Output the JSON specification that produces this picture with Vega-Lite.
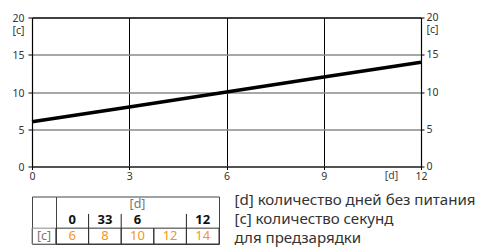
{
  "$schema": "https://vega.github.io/schema/vega-lite/v6.json",
  "padding": {"left": 11, "top": 12.5, "right": 0, "bottom": 0},
  "config": {
    "font": "Noto Sans",
    "view": {"stroke": null},
    "axis": {"labelFont": "Noto Sans", "labelFontSize": 10.5, "labelColor": "#333", "domainColor": "#000", "tickColor": "#000", "domainWidth": 1.2, "labelOverlap": false, "labelFlush": false}
  },
  "vconcat": [
    {
      "width": 389,
      "height": 149,
      "data": {"values": [{"d": 0, "c": 6}, {"d": 3, "c": 8}, {"d": 6, "c": 10}, {"d": 9, "c": 12}, {"d": 12, "c": 14}]},
      "layer": [
        {
          "mark": {"type": "line", "color": "#000", "strokeWidth": 3.5},
          "encoding": {
            "x": {"field": "d", "type": "quantitative", "scale": {"domain": [0, 12], "nice": false},
              "axis": {"values": [0, 3, 6, 9, 12], "title": "[d]", "titleX": 359, "titleY": 9, "titleBaseline": "middle", "titleAlign": "center", "titleFontWeight": "normal", "titleFontSize": 10.5, "titleFont": "Noto Sans", "titleColor": "#444", "grid": true, "gridColor": "#000", "gridWidth": 1, "tickSize": 3, "labelPadding": 2}},
            "y": {"field": "c", "type": "quantitative", "scale": {"domain": [0, 20], "nice": false},
              "axis": {"values": [0, 5, 10, 15, 20], "title": null, "grid": true,
                "gridColor": {"condition": {"test": "datum.value == 20", "value": "#000"}, "value": "#8a8a8a"},
                "gridWidth": 1.5, "tickSize": 4, "labelPadding": 4, "labelBaseline": "alphabetic", "labelOffset": 4, "labelLineHeight": 12,
                "labelExpr": "datum.value == 20 ? ['20', '[c]'] : datum.label"}}
          }
        },
        {
          "mark": {"type": "line", "opacity": 0},
          "encoding": {
            "x": {"field": "d", "type": "quantitative"},
            "y": {"field": "c", "type": "quantitative",
              "axis": {"orient": "right", "values": [0, 5, 10, 15, 20], "title": null, "grid": false, "tickSize": 3, "labelPadding": 2, "labelBaseline": "alphabetic", "labelOffset": 3, "labelLineHeight": 12,
                "labelExpr": "datum.value == 20 ? ['20', '[c]'] : datum.label"}}
          }
        }
      ],
      "resolve": {"axis": {"y": "independent"}}
    },
    {
      "spacing": 14,
      "hconcat": [
        {
          "spacing": 0,
          "bounds": "flush",
          "hconcat": [
            {
              "width": 24,
              "height": 47.5,
              "view": {"stroke": "#444", "strokeWidth": 1},
              "data": {"values": [{"row": "C", "label": "[c]"}]},
              "layer": [
                {
                  "mark": {"type": "rect", "fill": "transparent", "stroke": "#888", "strokeWidth": 1},
                  "encoding": {"y": {"field": "row", "type": "nominal", "scale": {"domain": ["A", "B", "C"], "paddingInner": 0, "paddingOuter": 0}, "axis": null}}
                },
                {
                  "mark": {"type": "text", "color": "#777", "fontSize": 12.5},
                  "encoding": {"y": {"field": "row", "type": "nominal", "axis": null}, "text": {"field": "label"}}
                }
              ]
            },
            {
              "width": 163,
              "height": 47.5,
              "view": {"stroke": "#444", "strokeWidth": 1},
              "layer": [
                {
                  "data": {"values": [{"row": "C", "col": 1}, {"row": "C", "col": 2}, {"row": "C", "col": 3}, {"row": "C", "col": 4}, {"row": "C", "col": 5}]},
                  "mark": {"type": "rect", "fill": "transparent", "stroke": "#333", "strokeWidth": 1},
                  "encoding": {
                    "x": {"field": "col", "type": "ordinal", "scale": {"domain": [1, 2, 3, 4, 5], "paddingInner": 0, "paddingOuter": 0}, "axis": null},
                    "y": {"field": "row", "type": "nominal", "scale": {"domain": ["A", "B", "C"], "paddingInner": 0, "paddingOuter": 0}, "axis": null}
                  }
                },
                {
                  "data": {"values": [{"row": "B", "col": 2}, {"row": "B", "col": 3}, {"row": "B", "col": 5}]},
                  "mark": {"type": "rule", "color": "#222", "strokeWidth": 1},
                  "encoding": {
                    "x": {"field": "col", "type": "ordinal", "bandPosition": 0, "axis": null},
                    "y": {"field": "row", "type": "nominal", "bandPosition": 0.1, "axis": null},
                    "y2": {"field": "row", "bandPosition": 1}
                  }
                },
                {
                  "data": {"values": [{"row": "A", "label": "[d]"}]},
                  "mark": {"type": "text", "color": "#777", "fontSize": 12.5},
                  "encoding": {"y": {"field": "row", "type": "nominal", "axis": null}, "text": {"field": "label"}}
                },
                {
                  "data": {"values": [{"row": "B", "col": 1, "label": "0"}, {"row": "B", "col": 2, "label": "33"}, {"row": "B", "col": 3, "label": "6"}, {"row": "B", "col": 4, "label": ""}, {"row": "B", "col": 5, "label": "12"}]},
                  "mark": {"type": "text", "color": "#111", "fontSize": 13, "fontWeight": "bold"},
                  "encoding": {
                    "x": {"field": "col", "type": "ordinal", "axis": null},
                    "y": {"field": "row", "type": "nominal", "axis": null},
                    "text": {"field": "label"}
                  }
                },
                {
                  "data": {"values": [{"row": "C", "col": 1, "value": "6"}, {"row": "C", "col": 2, "value": "8"}, {"row": "C", "col": 3, "value": "10"}, {"row": "C", "col": 4, "value": "12"}, {"row": "C", "col": 5, "value": "14"}]},
                  "mark": {"type": "text", "color": "#f7941d", "fontSize": 13},
                  "encoding": {
                    "x": {"field": "col", "type": "ordinal", "axis": null},
                    "y": {"field": "row", "type": "nominal", "axis": null},
                    "text": {"field": "value"}
                  }
                }
              ]
            }
          ]
        },
        {
          "width": 1,
          "height": 45,
          "data": {"values": [{"line": 1, "text": "[d] количество дней без питания"}, {"line": 2, "text": "[c] количество секунд"}, {"line": 3, "text": "для предзарядки"}]},
          "mark": {"type": "text", "align": "left", "fontSize": 15.1, "color": "#333"},
          "encoding": {
            "y": {"field": "line", "type": "ordinal", "scale": {"type": "point", "padding": 0.184}, "axis": null},
            "text": {"field": "text"}
          }
        }
      ]
    }
  ],
  "spacing": 10
}
